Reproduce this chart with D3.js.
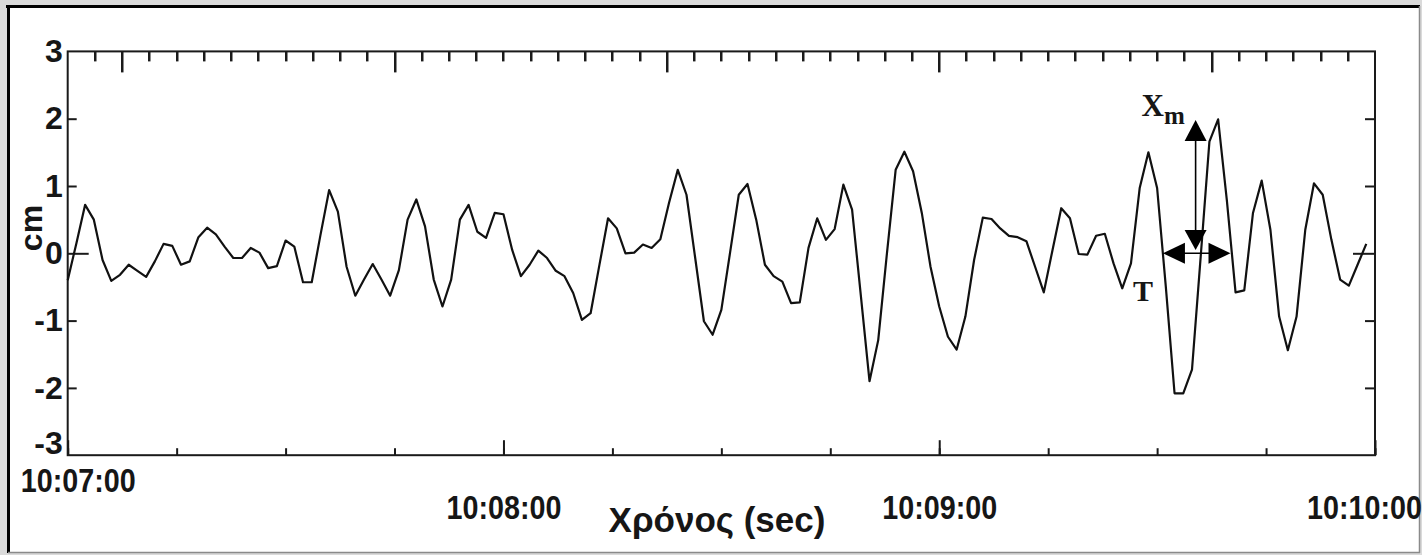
<!DOCTYPE html>
<html>
<head>
<meta charset="utf-8">
<script src="https://cdn.jsdelivr.net/npm/d3@7"></script>
<style>
  body { margin: 0; background: #dadada; }
  svg { display: block; }
  text { font-family: "Liberation Sans", Arial, sans-serif; font-weight: bold; fill: #161616; }
</style>
</head>
<body>
<script>
// recording starts 10:07:00, one sample every 1.2 s
const startTime = new Date(2000, 0, 1, 10, 7, 0);
const endTime = new Date(2000, 0, 1, 10, 10, 0);
const sampleStep = 1.2;

const values = [
  -0.40, 0.15, 0.72, 0.50, -0.10, -0.41, -0.32, -0.17, -0.26, -0.35,
  -0.12, 0.14, 0.11, -0.17, -0.12, 0.24, 0.38, 0.28, 0.10, -0.07,
  -0.07, 0.08, 0.01, -0.22, -0.19, 0.19, 0.10, -0.43, -0.43, 0.27,
  0.94, 0.62, -0.20, -0.63, -0.39, -0.16, -0.39, -0.63, -0.25, 0.50,
  0.80, 0.40, -0.39, -0.79, -0.39, 0.50, 0.72, 0.32, 0.23, 0.60,
  0.58, 0.05, -0.34, -0.17, 0.04, -0.07, -0.26, -0.34, -0.59, -0.99,
  -0.89, -0.18, 0.52, 0.37, 0.00, 0.01, 0.13, 0.08, 0.21, 0.75,
  1.24, 0.87, -0.07, -1.01, -1.21, -0.84, 0.01, 0.87, 1.03, 0.50,
  -0.17, -0.34, -0.42, -0.74, -0.73, 0.08, 0.52, 0.20, 0.36, 1.02,
  0.65, -0.62, -1.90, -1.29, 0.00, 1.24, 1.51, 1.22, 0.60, -0.20,
  -0.79, -1.24, -1.43, -0.94, -0.10, 0.53, 0.51, 0.37, 0.26, 0.24,
  0.18, -0.20, -0.58, 0.05, 0.67, 0.52, -0.01, -0.02, 0.26, 0.29,
  -0.15, -0.52, -0.15, 0.97, 1.50, 0.97, -0.50, -2.08, -2.08, -1.73,
  -0.05, 1.66, 1.99, 0.79, -0.58, -0.55, 0.60, 1.08, 0.35, -0.94,
  -1.44, -0.94, 0.35, 1.04, 0.87, 0.20, -0.39, -0.48, -0.17, 0.14
];

const yTicks = [-3, -2, -1, 0, 1, 2, 3];
const minuteTicks = [
  new Date(2000, 0, 1, 10, 7, 0), new Date(2000, 0, 1, 10, 8, 0),
  new Date(2000, 0, 1, 10, 9, 0), new Date(2000, 0, 1, 10, 10, 0)
];
const topMinor = d3.range(1, 48);
const topMajor = [2, 12, 22, 32, 42];

// annotation: amplitude Xm and period T (seconds after start / cm)
const xmArrow = { t: 155.3, from: 0.05, to: 1.98 };
const tArrow = { from: 150.8, to: 160.1, v: 0 };

const W = 1422, H = 555;
const m = { left: 67.7, right: 1375, top: 51.4, bottom: 455.2 };

const svg = d3.select('body').append('svg')
  .attr('width', W)
  .attr('height', H);

// frame
svg.append('rect').attr('x', 8).attr('y', 6).attr('width', 1411).attr('height', 546).attr('fill', '#fff');
svg.append('line').attr('x1', 6).attr('x2', 1420).attr('y1', 6.5).attr('y2', 6.5).attr('stroke', '#000').attr('stroke-width', 3);
svg.append('line').attr('x1', 8.5).attr('x2', 8.5).attr('y1', 5).attr('y2', 553).attr('stroke', '#000').attr('stroke-width', 3);
svg.append('line').attr('x1', 1419.5).attr('x2', 1419.5).attr('y1', 6).attr('y2', 553).attr('stroke', '#8a8a8a').attr('stroke-width', 1.5);
svg.append('line').attr('x1', 8).attr('x2', 1420).attr('y1', 552.5).attr('y2', 552.5).attr('stroke', '#8a8a8a').attr('stroke-width', 1.5);

const xScale = d3.scaleTime().domain([startTime, endTime]).range([m.left, m.right]);
const yScale = d3.scaleLinear().domain([-3, 3]).range([m.bottom, m.top]);
const topScale = d3.scaleLinear().domain([0, 48]).range([m.left, m.right]);

const sampleTime = (i) => new Date(startTime.getTime() + i * sampleStep * 1000);
const secTime = (s) => new Date(startTime.getTime() + s * 1000);

// left axis
const yAxis = svg.append('g')
  .attr('transform', 'translate(' + m.left + ',0)')
  .call(d3.axisLeft(yScale).tickValues(yTicks).tickSize(-9).tickPadding(5).tickFormat(d => String(d)));
yAxis.selectAll('.tick line').filter(d => d === 0).attr('x2', 21);
yAxis.selectAll('.tick line').filter(d => d === 3 || d === -3).remove();
yAxis.selectAll('.tick text').style('font-size', '32px')
  .attr('dy', d => d === -3 ? '-0.05em' : '0.32em');

// right axis
const rAxis = svg.append('g')
  .attr('transform', 'translate(' + m.right + ',0)')
  .call(d3.axisRight(yScale).tickValues([-2, -1, 0, 1, 2]).tickSize(-10).tickFormat(''));
rAxis.selectAll('.tick line').filter(d => d === 0).attr('x2', -22);

// bottom axis: 15 s ticks, labelled minutes
svg.append('g')
  .attr('transform', 'translate(0,' + m.bottom + ')')
  .call(d3.axisBottom(xScale).ticks(d3.timeSecond.every(15)).tickSize(-7).tickFormat(''));
const bAxis = svg.append('g')
  .attr('transform', 'translate(0,' + m.bottom + ')')
  .call(d3.axisBottom(xScale).tickValues(minuteTicks).tickSize(-15).tickPadding(13)
    .tickFormat(d3.timeFormat('%H:%M:%S')));
bAxis.selectAll('.tick text')
  .style('font-size', '33px')
  .attr('transform', 'scale(0.87,1)')
  .attr('x', (d, i) => i === 0 ? 10 / 0.87 : (i === 3 ? -11 / 0.87 : 0))
  .attr('y', (d, i) => i === 0 ? 13 : 40);

svg.selectAll('.domain').remove();
svg.selectAll('.tick line').attr('stroke', '#1a1a1a').attr('stroke-width', 2);

// plot box
svg.append('rect')
  .attr('x', m.left).attr('y', m.top)
  .attr('width', m.right - m.left).attr('height', m.bottom - m.top)
  .attr('fill', 'none').attr('stroke', '#1a1a1a').attr('stroke-width', 2);

// top axis: small marks, a longer one every tenth
svg.append('g')
  .attr('class', 'top-marks')
  .selectAll('rect')
  .data(topMinor)
  .enter()
  .append('rect')
  .attr('x', d => Math.round(topScale(d)) - 1)
  .attr('y', m.top)
  .attr('width', 2.5)
  .attr('height', d => topMajor.includes(d) ? 21 : 10)
  .attr('fill', '#1a1a1a');

// waveform
const line = d3.line()
  .x((d, i) => xScale(sampleTime(i)))
  .y(d => yScale(d));

svg.append('path')
  .datum(values)
  .attr('d', line)
  .attr('fill', 'none')
  .attr('stroke', '#111')
  .attr('stroke-width', 2.2)
  .attr('stroke-linejoin', 'round');

// annotations
const ann = svg.append('g');
const ax = xScale(secTime(xmArrow.t));
const ayTop = yScale(xmArrow.to), ayBot = yScale(xmArrow.from);
ann.append('line').attr('x1', ax).attr('x2', ax).attr('y1', ayTop + 18).attr('y2', ayBot - 18)
  .attr('stroke', '#000').attr('stroke-width', 1.6);
ann.append('path').attr('d', 'M' + ax + ',' + ayTop + 'l-11,21h22z').attr('fill', '#000');
ann.append('path').attr('d', 'M' + ax + ',' + ayBot + 'l-11,-20h22z').attr('fill', '#000');

const hy = yScale(tArrow.v);
const hx1 = xScale(secTime(tArrow.from)), hx2 = xScale(secTime(tArrow.to));
ann.append('line').attr('x1', hx1 + 18).attr('x2', hx2 - 18).attr('y1', hy).attr('y2', hy)
  .attr('stroke', '#000').attr('stroke-width', 1.6);
ann.append('path').attr('d', 'M' + hx1 + ',' + hy + 'l22,-10.5v21z').attr('fill', '#000');
ann.append('path').attr('d', 'M' + hx2 + ',' + hy + 'l-22,-10.5v21z').attr('fill', '#000');

ann.append('text')
  .attr('x', ax - 54).attr('y', ayTop - 4)
  .style('font-family', '"Liberation Serif", "Times New Roman", serif')
  .style('font-size', '31px')
  .text('X')
  .append('tspan')
  .attr('dy', 8)
  .style('font-size', '25px')
  .text('m');

ann.append('text')
  .attr('x', hx1 - 30).attr('y', hy + 48)
  .style('font-family', '"Liberation Serif", "Times New Roman", serif')
  .style('font-size', '30px')
  .text('T');

// axis titles
svg.append('text')
  .attr('transform', 'translate(42,228) rotate(-90)')
  .attr('text-anchor', 'middle')
  .style('font-size', '32px')
  .text('cm');

svg.append('text')
  .attr('x', 717).attr('y', 532)
  .attr('text-anchor', 'middle')
  .style('font-size', '35px')
  .text('Χρόνος (sec)');
</script>
</body>
</html>
